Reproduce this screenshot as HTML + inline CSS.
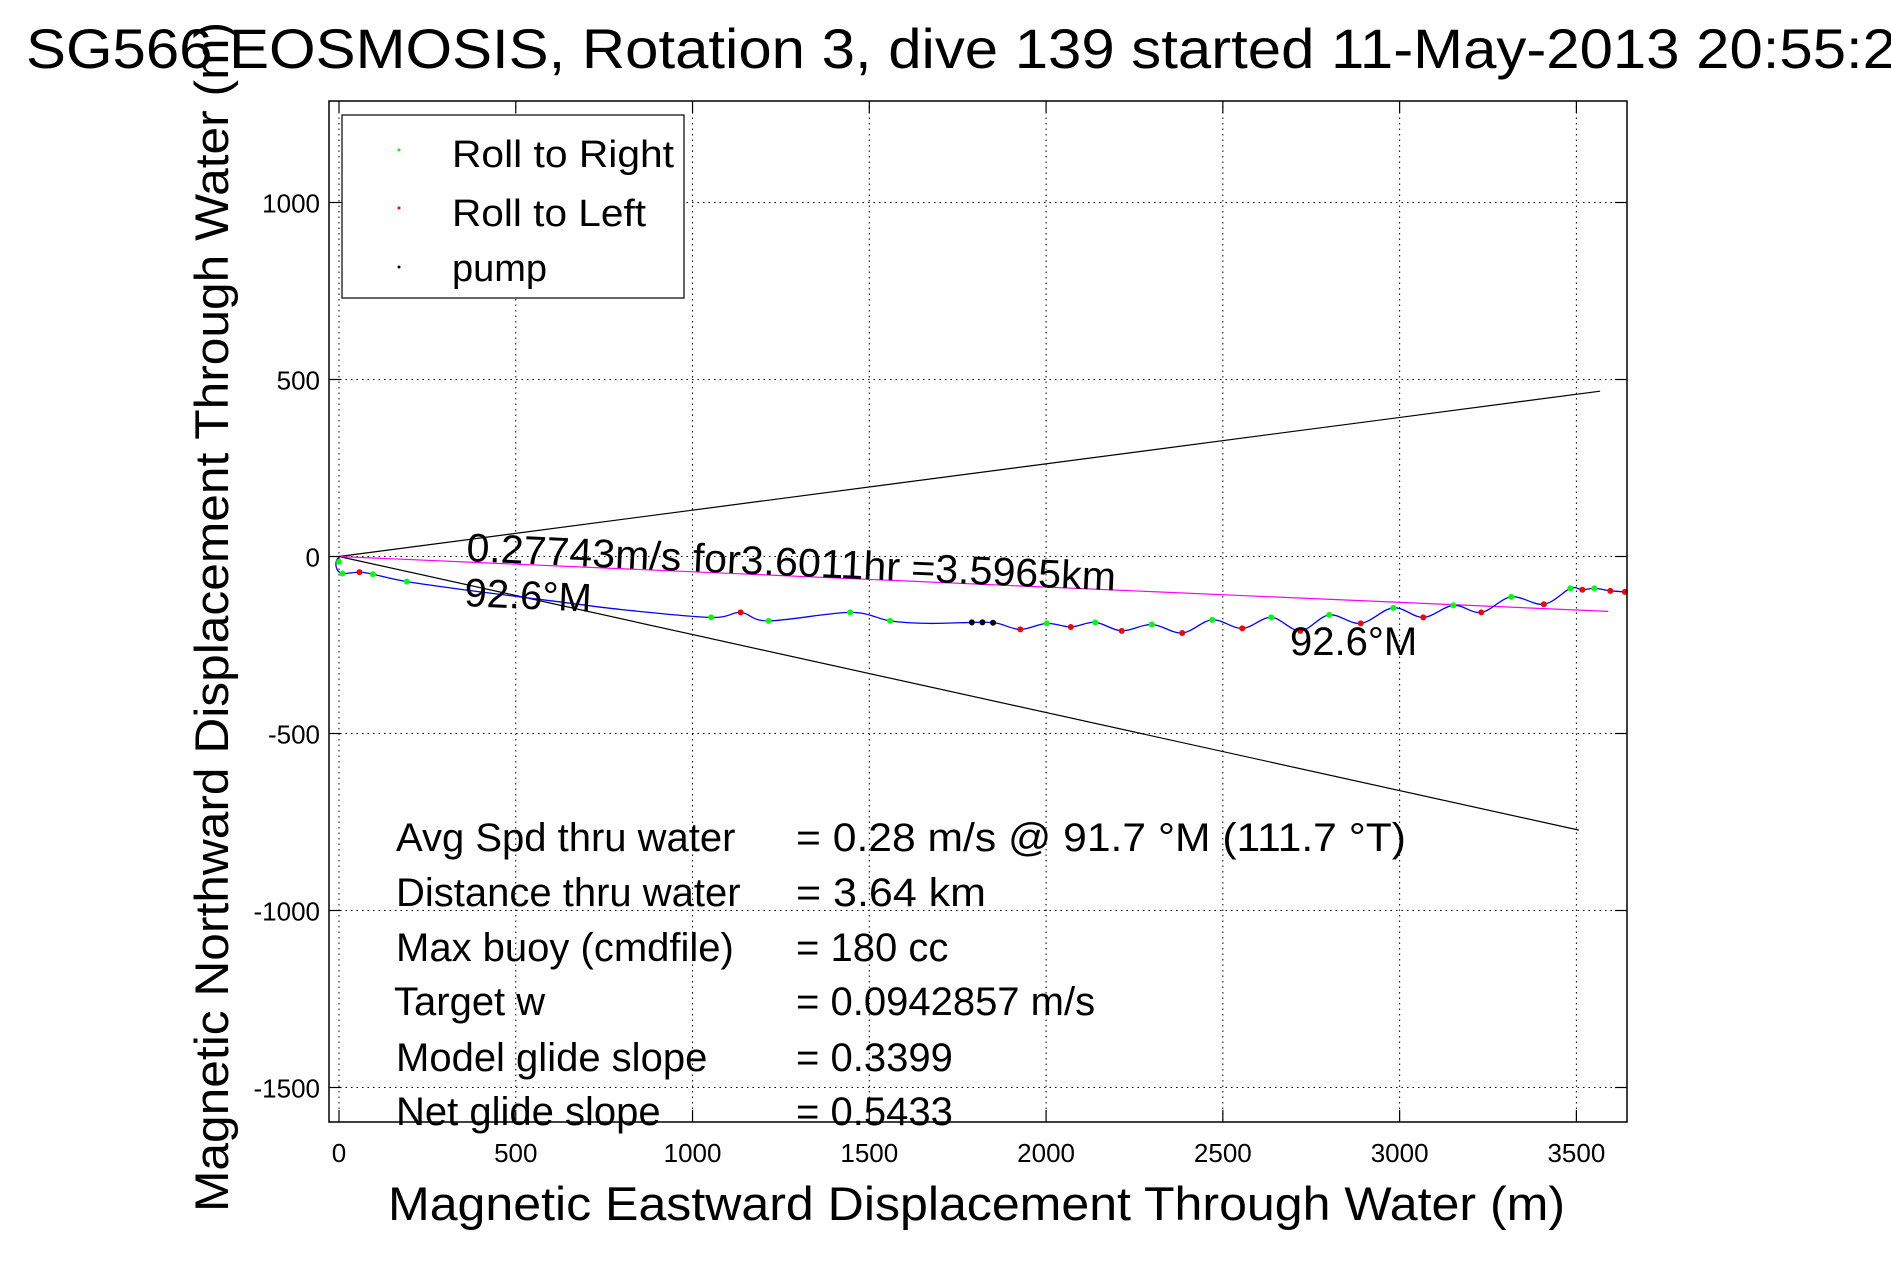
<!DOCTYPE html>
<html><head><meta charset="utf-8"><style>
html,body{margin:0;padding:0;background:#fff;}
svg{display:block;font-family:"Liberation Sans",sans-serif;}
</style></head><body>
<svg id="chart" width="1891" height="1262" viewBox="0 0 1891 1262" xmlns="http://www.w3.org/2000/svg">
<rect x="0" y="0" width="1891" height="1262" fill="#fff"/>
<g id="grid"></g>
<g id="lines"></g>
<g id="track"></g>
<rect x="329" y="101" width="1298" height="1021" fill="none" stroke="#000" stroke-width="1.5"/>
<g id="ticks"></g>
<text x="26" y="68" font-size="56" textLength="1870" lengthAdjust="spacingAndGlyphs">SG566 EOSMOSIS, Rotation 3, dive 139 started 11-May-2013 20:55:2</text>
<text transform="translate(228,1212) rotate(-90)" font-size="47" textLength="1190" lengthAdjust="spacingAndGlyphs">Magnetic Northward Displacement Through Water (m)</text>
<text x="388" y="1220" font-size="47" textLength="1177" lengthAdjust="spacingAndGlyphs">Magnetic Eastward Displacement Through Water (m)</text>
<g>
<rect x="342" y="115" width="342" height="183" fill="#fff" stroke="#000" stroke-width="1.2"/>
<circle cx="399" cy="150" r="1.5" fill="#0f0"/>
<text x="452" y="167" font-size="38" textLength="222" lengthAdjust="spacingAndGlyphs">Roll to Right</text>
<circle cx="399" cy="208" r="1.5" fill="#f00"/>
<text x="452" y="226" font-size="38" textLength="194" lengthAdjust="spacingAndGlyphs">Roll to Left</text>
<circle cx="399" cy="267" r="1.5" fill="#000"/>
<text x="452" y="281" font-size="38">pump</text>
</g>
<g font-size="40">
<text transform="translate(466,561) rotate(2.6)" textLength="650" lengthAdjust="spacingAndGlyphs">0.27743m/s for3.6011hr =3.5965km</text>
<text transform="translate(464,606) rotate(2.6)">92.6°M</text>
<text x="1290" y="655">92.6°M</text>
</g>
<g font-size="40">
<text x="396" y="851">Avg Spd thru water</text>
<text x="796" y="851" textLength="610" lengthAdjust="spacingAndGlyphs">=  0.28 m/s @  91.7 °M (111.7 °T)</text>
<text x="396" y="906">Distance thru water</text>
<text x="796" y="906" textLength="190" lengthAdjust="spacingAndGlyphs">=  3.64 km</text>
<text x="396" y="961">Max buoy (cmdfile)</text>
<text x="796" y="961">= 180 cc</text>
<text x="394" y="1015">Target w</text>
<text x="796" y="1015">= 0.0942857 m/s</text>
<text x="396" y="1071">Model glide slope</text>
<text x="796" y="1071">= 0.3399</text>
<text x="396" y="1125">Net glide slope</text>
<text x="796" y="1125">= 0.5433</text>
</g>
</svg>
<script>
const xTicks = [0, 500, 1000, 1500, 2000, 2500, 3000, 3500];
const yTicks = [-1500, -1000, -500, 0, 500, 1000];
const trackX = [0, -8, -6, 10, 58, 96, 192, 400, 600, 800, 1053, 1136, 1215, 1446, 1559, 1668, 1805, 1860, 1927, 2002, 2070, 2139, 2214, 2299, 2385, 2470, 2555, 2637, 2719, 2801, 2890, 2982, 3067, 3152, 3231, 3316, 3408, 3483, 3517, 3551, 3596, 3637];
const trackY = [0, -15, -35, -48, -44, -50, -71, -100, -125, -150, -172, -158, -182, -158, -182, -189, -186, -188, -206, -189, -199, -186, -210, -192, -216, -179, -203, -172, -210, -165, -189, -145, -172, -138, -158, -114, -135, -90, -94, -90, -97, -100];
const rollRightX = [0, 10, 96, 192, 1053, 1215, 1446, 1559, 2002, 2139, 2299, 2470, 2637, 2801, 2982, 3152, 3316, 3483, 3551];
const rollRightY = [-15, -48, -50, -71, -172, -182, -158, -182, -189, -186, -192, -179, -172, -165, -145, -138, -114, -90, -90];
const rollLeftX = [58, 1136, 1927, 2070, 2214, 2385, 2555, 2719, 2890, 3067, 3231, 3408, 3517, 3596, 3637];
const rollLeftY = [-44, -158, -206, -199, -210, -216, -203, -210, -189, -172, -158, -135, -94, -97, -100];
const pumpX = [1790, 1820, 1850];
const pumpY = [-186, -186, -187];
const lineEndX = [3567, 3507, 3590];
const lineEndY = [467, -773, -155];
const lineNames = ['upper-bound-line', 'lower-bound-line', 'mean-heading-line'];
const lineColors = ['#000', '#000', '#f0f'];

const X0 = 339, KX = 0.35354, Y0 = 556.5, KY = 0.354;
const L = 329, R = 1627, T = 101, B = 1122;
function sx(v) { return X0 + v * KX; }
function sy(v) { return Y0 - v * KY; }
const NS = 'http://www.w3.org/2000/svg';
function mk(tag, parent, attrs) {
  const e = document.createElementNS(NS, tag);
  for (const k in attrs) e.setAttribute(k, attrs[k]);
  parent.appendChild(e);
  return e;
}
const grid = document.getElementById('grid');
const ticks = document.getElementById('ticks');
xTicks.forEach(v => {
  const x = sx(v);
  const g = mk('line', grid, {x1: x, x2: x, y1: T, y2: B, stroke: '#000', 'stroke-width': 1, 'stroke-dasharray': '1.5,4'});
  
  
  const t1 = mk('line', ticks, {x1: x, x2: x, y1: B, y2: B - 12, stroke: '#000', 'stroke-width': 1.2});
  
  
  const t2 = mk('line', ticks, {x1: x, x2: x, y1: T, y2: T + 12, stroke: '#000', 'stroke-width': 1.2});
  
  
  const lb = mk('text', ticks, {x: x, y: 1162, 'font-size': 26, 'text-anchor': 'middle'});
  lb.textContent = v;
  
  
});
yTicks.forEach(v => {
  const y = sy(v);
  const g = mk('line', grid, {x1: L, x2: R, y1: y, y2: y, stroke: '#000', 'stroke-width': 1, 'stroke-dasharray': '1.5,4'});
  
  
  const t1 = mk('line', ticks, {x1: L, x2: L + 12, y1: y, y2: y, stroke: '#000', 'stroke-width': 1.2});
  
  
  const t2 = mk('line', ticks, {x1: R, x2: R - 12, y1: y, y2: y, stroke: '#000', 'stroke-width': 1.2});
  
  
  const lb = mk('text', ticks, {x: 320, y: y + 10, 'font-size': 26, 'text-anchor': 'end'});
  lb.textContent = v;
  
  
});
const lines = document.getElementById('lines');
lineEndX.forEach((ex, i) => {
  const l = mk('line', lines, {x1: sx(0), y1: sy(0), x2: sx(ex), y2: sy(lineEndY[i]), stroke: lineColors[i], 'stroke-width': 1.2});
  
  
});
const track = document.getElementById('track');
// smooth curve through track points (Catmull-Rom)
const P = trackX.map((v, i) => [sx(v), sy(trackY[i])]);
let d = 'M' + P[0][0].toFixed(1) + ',' + P[0][1].toFixed(1);
for (let i = 0; i < P.length - 1; i++) {
  const p0 = P[Math.max(0, i - 1)], p1 = P[i], p2 = P[i + 1], p3 = P[Math.min(P.length - 1, i + 2)];
  const c1 = [p1[0] + (p2[0] - p0[0]) / 6, p1[1] + (p2[1] - p0[1]) / 6];
  const c2 = [p2[0] - (p3[0] - p1[0]) / 6, p2[1] - (p3[1] - p1[1]) / 6];
  d += ' C' + c1[0].toFixed(1) + ',' + c1[1].toFixed(1) + ' ' + c2[0].toFixed(1) + ',' + c2[1].toFixed(1) + ' ' + p2[0].toFixed(1) + ',' + p2[1].toFixed(1);
}
const pl = mk('path', track, {d: d, fill: 'none', stroke: '#00f', 'stroke-width': 1.3});


rollRightX.forEach((v, i) => {
  const c = mk('circle', track, {cx: sx(v), cy: sy(rollRightY[i]), r: 3, fill: '#0f0'});
  
  
});
rollLeftX.forEach((v, i) => {
  const c = mk('circle', track, {cx: sx(v), cy: sy(rollLeftY[i]), r: 3, fill: '#f00'});
  
  
});
pumpX.forEach((v, i) => {
  const c = mk('circle', track, {cx: sx(v), cy: sy(pumpY[i]), r: 3, fill: '#000'});
  
  
});
</script>
</body></html>
